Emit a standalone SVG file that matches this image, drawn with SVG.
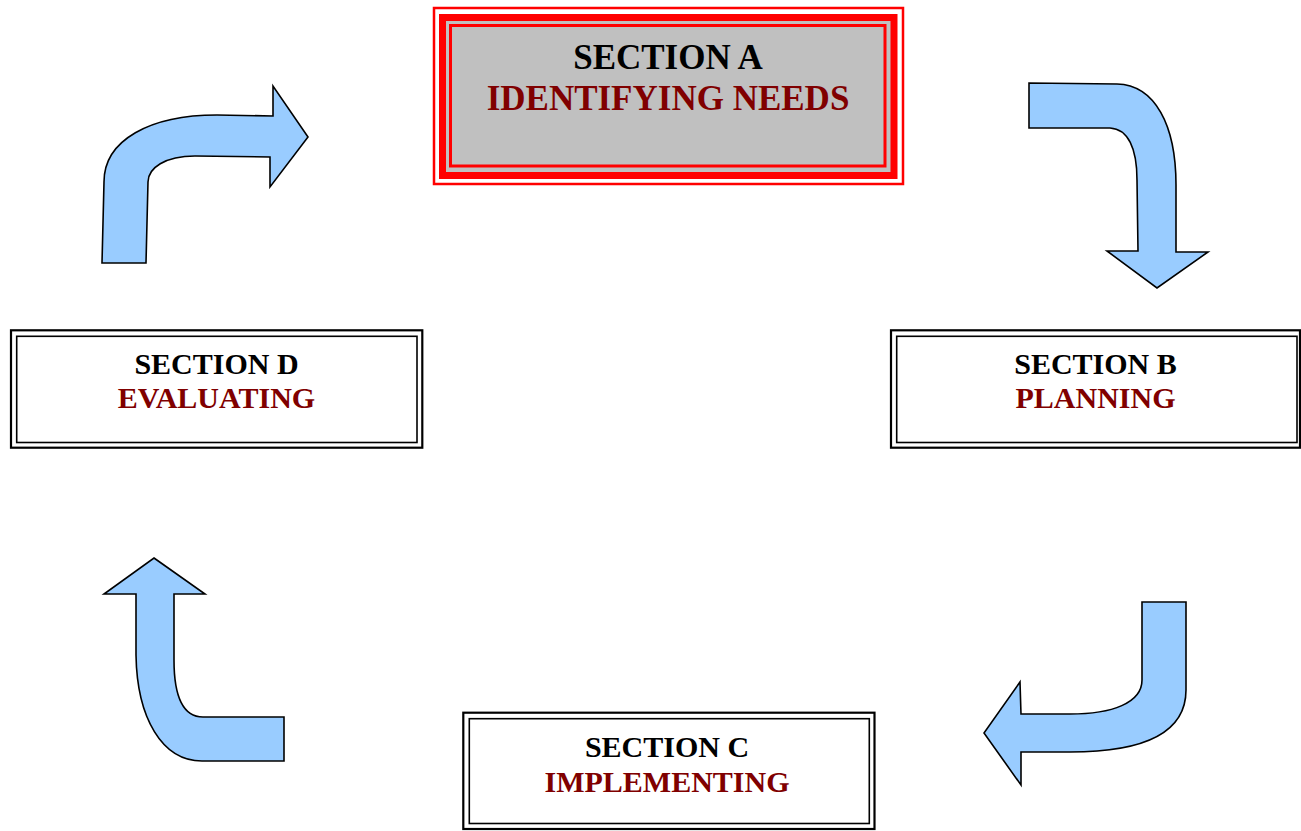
<svg xmlns="http://www.w3.org/2000/svg" width="1301" height="831" viewBox="0 0 1301 831">
<style>
.t{font-family:"Liberation Serif","Times New Roman",serif;font-weight:bold;text-anchor:middle}
.k{fill:#000}
.r{fill:#800000}
.ob{fill:#fff;stroke:#000;stroke-width:2.2}
.ib{fill:none;stroke:#000;stroke-width:1.6}
.arr{fill:#99ccff;stroke:#000;stroke-width:1.6;stroke-linejoin:miter}
</style>
<rect width="1301" height="831" fill="#fff"/>
<g id="connectors">
<path class="arr" d="M 102,263 L 104,182 C 104,140 150,115 217,115 L 273,116 L 273,86 L 308,137 L 270,187 L 270,157 L 195,156 C 165,156 148,168 148,182 L 146,263 Z"/>
<path class="arr" d="M 1029,83 L 1117,84 C 1155,85 1176,125 1176,185 L 1176,252 L 1208,252 L 1157,288 L 1107,251 L 1138,251 L 1137,180 C 1137,148 1128,129 1110,128 L 1029,128 Z"/>
<path class="arr" d="M 1142,602 L 1186,602 L 1186,690 C 1186,735 1140,752 1070,752 L 1021,752 L 1021,785 L 984,733 L 1020,682 L 1021,714 L 1070,714 C 1112,714 1142,703 1142,680 Z"/>
<path class="arr" d="M 154,558 L 205,594 L 174,594 L 174,660 C 174,700 185,717 203,717 L 284,717 L 284,761 L 202,761 C 162,761 137,718 136,655 L 136,594 L 104,594 Z"/>
</g>
<g id="section-a">
<rect x="434" y="8" width="469" height="176" fill="#fff" stroke="#ff0000" stroke-width="2.5"/>
<rect x="442.5" y="17.5" width="451.5" height="158" fill="#c0c0c0" stroke="#ff0000" stroke-width="7"/>
<rect x="450.5" y="25.5" width="434.5" height="140.5" fill="none" stroke="#ff0000" stroke-width="3"/>
<text class="t k" x="668" y="69" font-size="35">SECTION A</text>
<text class="t r" x="668" y="110" font-size="35">IDENTIFYING NEEDS</text>
</g>
<g id="section-b">
<rect class="ob" x="891" y="330.3" width="409" height="117.4"/>
<rect class="ib" x="896.7" y="336.3" width="400.3" height="106.2"/>
<text class="t k" x="1095.5" y="374" font-size="30">SECTION B</text>
<text class="t r" x="1095.5" y="408.3" font-size="30">PLANNING</text>
</g>
<g id="section-c">
<rect class="ob" x="463.3" y="712.7" width="411.2" height="116.3"/>
<rect class="ib" x="469.3" y="718.7" width="400" height="104.8"/>
<text class="t k" x="667" y="757.3" font-size="30">SECTION C</text>
<text class="t r" x="667" y="792.3" font-size="30">IMPLEMENTING</text>
</g>
<g id="section-d">
<rect class="ob" x="11" y="330.3" width="411.3" height="117.4"/>
<rect class="ib" x="16.7" y="336.3" width="400.3" height="106.2"/>
<text class="t k" x="216.5" y="374" font-size="30">SECTION D</text>
<text class="t r" x="216.5" y="408.3" font-size="30">EVALUATING</text>
</g>
</svg>
